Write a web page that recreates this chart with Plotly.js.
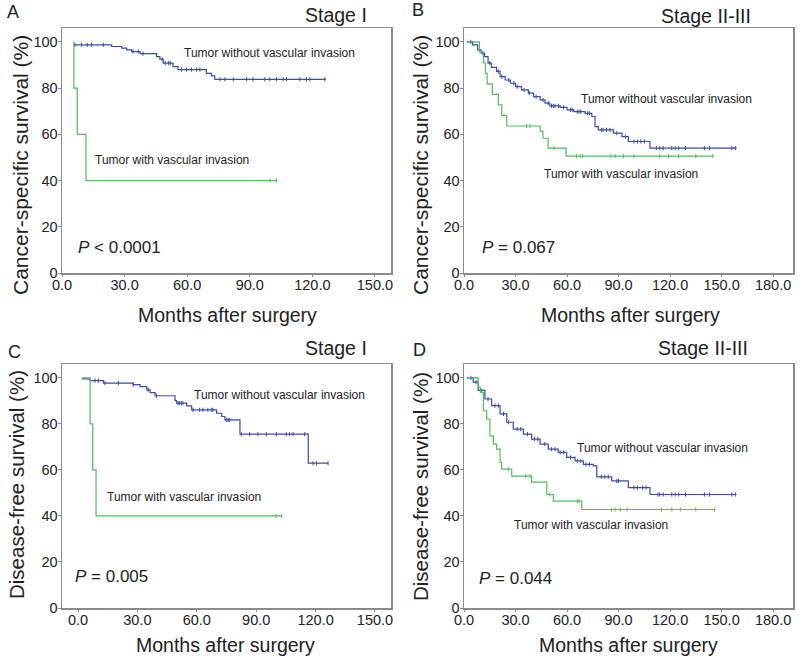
<!DOCTYPE html>
<html>
<head>
<meta charset="utf-8">
<script src="https://cdn.plot.ly/plotly-3.0.1.min.js"></script>
<style>
  html, body { margin: 0; padding: 0; background: #fff; }
  #chart { width: 800px; height: 661px; }
</style>
</head>
<body>
<div id="chart"></div>
<script>
// Kaplan-Meier step curves: at time t[i] survival becomes s[i]; last point = end of follow-up
// A: cancer-specific survival, stage I
var aWithoutT = [5.7, 23.8, 28.6, 31, 33.4, 37.4, 45.3, 46.9, 48.5, 53.2, 55.6, 69.2, 71.6, 73.2, 126.5];
var aWithoutS = [98.7, 98.0, 97.3, 96.5, 95.8, 94.9, 93.6, 92.5, 90.8, 89.3, 88.0, 86.4, 85.3, 83.8, 83.8];
var aWithoutC = [6.2, 9.4, 12.1, 14.2, 19.8, 34, 36.5, 38.8, 48, 49.5, 51, 51.9, 57.3, 59.7, 62.1, 64.5, 66.1,
                 75.7, 78.1, 82.1, 88.5, 91.6, 97.2, 99.6, 102.8, 106, 107.6, 114, 117.2, 118.8, 126];
var aWithT = [5.5, 5.7, 7.3, 11.5, 102.8];
var aWithS = [100, 80, 60, 40, 40];
var aWithC = [99.7, 102.8];

// B: cancer-specific survival, stage II-III
var bWithoutT = [1.6, 5, 8, 10, 12, 14, 16, 19, 21, 24, 27, 30, 33.5, 37.5, 40.5, 44.3, 47.2, 50, 56, 60, 64,
                 70.5, 74.4, 76.3, 78.2, 87, 92, 95.7, 108.3, 158.8];
var bWithoutS = [100, 98.7, 96.5, 95.1, 93.6, 90.8, 89, 87.2, 85, 83.5, 82.1, 80.6, 79.2, 77.8, 76.3, 74.9, 73.5,
                 72.3, 71.7, 70.6, 69.8, 69.1, 67.7, 63.3, 61.9, 60.5, 59.0, 56.9, 54.0, 54.0];
var bWithoutC = [4, 9, 11, 15, 20, 22, 26, 29, 31, 35, 38, 42, 46, 49, 51, 52, 53, 55, 58, 62, 63, 66, 67, 68,
                 72, 73, 80, 81, 83, 85, 89, 94, 99, 101, 103, 105, 112, 114, 116, 121, 123, 125, 129, 140, 143, 156, 158];
var bWithT = [2.5, 9, 11.3, 12.5, 13.5, 16.5, 20, 22, 24.9, 44.3, 46, 49, 59.4, 145.2];
var bWithS = [100, 95.5, 90.9, 86.4, 81.8, 77.3, 72.7, 68.2, 63.6, 61.4, 58.3, 54.0, 50.6, 50.6];
var bWithC = [36.5, 38.4, 52.4, 65.6, 67.6, 69.1, 85.5, 88, 92.8, 99, 114, 119, 125, 135, 145];

// C: disease-free survival, stage I
var cWithoutT = [1.9, 6, 12.8, 27.9, 31.3, 34.7, 36.4, 38.9, 49, 49.8, 54.9, 57.4, 70, 72.6, 74.2, 81.8, 116.3, 126.4];
var cWithoutS = [99.5, 98.8, 97.7, 97, 96.2, 94.8, 93.6, 92.2, 90.1, 89, 87.8, 86.1, 84.6, 83.2, 81.7, 75.5, 62.9, 62.9];
var cWithoutC = [8.6, 10.3, 13.6, 20.4, 27.9, 35.4, 39.6, 50.5, 51.3, 52.2, 53, 58.1, 61.4, 63.1, 65.6, 67.3, 68.1,
                 74.9, 75.8, 76.6, 82.5, 86.7, 90.9, 95.1, 100.2, 105.2, 106.9, 108.6, 114.5, 118.7, 120.4, 126.3];
var cWithT = [1.9, 6.1, 7.4, 9.1, 102.9];
var cWithS = [100, 80, 60, 40, 40];
var cWithC = [100, 102.9];

// D: disease-free survival, stage II-III
var dWithoutT = [1.6, 5.4, 8.3, 12.2, 16.1, 21, 24.9, 28.7, 34.6, 39.4, 44.3, 49.1, 54.9, 59.8, 64.7, 69.5,
                 75.3, 77.3, 86, 95.7, 108.3, 158.8];
var dWithoutS = [100, 98.1, 94.5, 90.8, 87.9, 84.3, 80.7, 77.7, 75.5, 73.4, 71.2, 69, 67.6, 65.4, 63.9, 62.4,
                 61.7, 57.0, 55.2, 52.3, 49.3, 49.3];
var dWithoutC = [4, 7, 10, 14, 18, 20, 23, 26, 31, 33, 37, 41, 43, 47, 51, 53, 56, 58, 62, 66, 68, 71, 73, 80, 82,
                 84, 89, 90, 99, 101, 104, 106, 113, 114, 116, 121, 123, 125, 129, 140, 143, 156, 158];
var dWithT = [2.5, 8.3, 9.5, 11.3, 13.2, 15.1, 17.1, 19, 21, 21.9, 27.8, 39.4, 48.2, 52, 68.6, 146.2];
var dWithS = [100, 96, 93.7, 85.7, 82.1, 74.8, 71.2, 69, 63.2, 60.3, 57.3, 54.7, 49.3, 46.4, 42.8, 42.8];
var dWithC = [25.8, 36, 38.5, 50, 66, 67, 86, 88, 91, 95, 115, 121, 126, 135, 146];

var blue = '#3a4ca8';
var green = '#4fbf5e';

// survival value of a step curve at time t
function survAt(T, S, t) {
    var v = S[0];
    for (var i = 0; i < T.length; i++) {
        if (T[i] <= t) v = S[i];
    }
    return v;
}

function curve(T, S, C, color, xa, ya) {
    var line = {
        x: T, y: S, xaxis: xa, yaxis: ya,
        type: 'scatter', mode: 'lines',
        line: {color: color, width: 1.2, shape: 'hv'},
        hoverinfo: 'skip'
    };
    var marks = {
        x: C, y: C.map(function(t){ return survAt(T, S, t); }),
        xaxis: xa, yaxis: ya,
        type: 'scatter', mode: 'markers',
        marker: {symbol: 'line-ns-open', size: 3, color: color, line: {color: color, width: 1}},
        hoverinfo: 'skip'
    };
    return [line, marks];
}

var chartData = []
    .concat(curve(aWithoutT, aWithoutS, aWithoutC, blue, 'x', 'y'))
    .concat(curve(aWithT, aWithS, aWithC, green, 'x', 'y'))
    .concat(curve(bWithoutT, bWithoutS, bWithoutC, blue, 'x2', 'y2'))
    .concat(curve(bWithT, bWithS, bWithC, green, 'x2', 'y2'))
    .concat(curve(cWithoutT, cWithoutS, cWithoutC, blue, 'x3', 'y3'))
    .concat(curve(cWithT, cWithS, cWithC, green, 'x3', 'y3'))
    .concat(curve(dWithoutT, dWithoutS, dWithoutC, blue, 'x4', 'y4'))
    .concat(curve(dWithT, dWithS, dWithC, green, 'x4', 'y4'));

function xAxis(domain, range, anchor) {
    return {
        domain: domain, range: range, anchor: anchor,
        tick0: 0, dtick: 30, tickformat: '.1f',
        showline: true, mirror: true, linecolor: '#8a8a8a', linewidth: 1.5,
        ticks: 'outside', ticklen: 2, tickcolor: '#8a8a8a',
        ticklabelstandoff: -4,
        showgrid: false, zeroline: false,
        tickfont: {size: 14.5, color: '#222'}
    };
}
function yAxis(domain, anchor) {
    return {
        domain: domain, range: [0, 106], anchor: anchor,
        tick0: 0, dtick: 20,
        showline: true, mirror: true, linecolor: '#8a8a8a', linewidth: 1.5,
        ticks: 'outside', ticklen: 3, tickcolor: '#8a8a8a',
        ticklabelstandoff: -3,
        showgrid: false, zeroline: false,
        tickfont: {size: 14.5, color: '#222'}
    };
}

function px(x) { return x / 800; }
function py(y) { return 1 - y / 661; }

function label(text, x, y, size, extra) {
    var a = {
        text: text, x: px(x), y: py(y), xref: 'paper', yref: 'paper',
        showarrow: false, font: {size: size, color: '#222'},
        xanchor: 'center', yanchor: 'middle'
    };
    for (var k in extra) a[k] = extra[k];
    return a;
}

var annotations = [
    label('A', 13, 12, 18),
    label('B', 418, 10, 18),
    label('C', 14, 352, 18),
    label('D', 419, 350, 18),
    label('Stage I', 336, 15, 19.5),
    label('Stage II-III', 706, 16, 19.5),
    label('Stage I', 336, 348, 19.5),
    label('Stage II-III', 703, 348, 19.5),
    label('Cancer-specific survival (%)', 20, 165, 21, {textangle: -90}),
    label('Cancer-specific survival (%)', 420, 165, 21, {textangle: -90}),
    label('Disease-free survival (%)', 17, 485, 20.5, {textangle: -90}),
    label('Disease-free survival (%)', 420, 487, 20.5, {textangle: -90}),
    label('Months after surgery', 227, 315, 19.5),
    label('Months after surgery', 630, 315, 19.5),
    label('Months after surgery', 226, 645, 19.5),
    label('Months after surgery', 628, 645, 19.5),
    label('Tumor without vascular invasion', 269, 53, 12),
    label('Tumor with vascular invasion', 172, 160, 12),
    label('Tumor without vascular invasion', 666, 99, 12),
    label('Tumor with vascular invasion', 621, 174, 12),
    label('Tumor without vascular invasion', 279, 395, 12),
    label('Tumor with vascular invasion', 184, 497, 12),
    label('Tumor without vascular invasion', 662, 448, 12),
    label('Tumor with vascular invasion', 591, 525, 12),
    label('<i>P</i> &lt; 0.0001', 76, 247, 17, {xanchor: 'left'}),
    label('<i>P</i> = 0.067', 480, 247, 17, {xanchor: 'left'}),
    label('<i>P</i> = 0.005', 73, 576, 17, {xanchor: 'left'}),
    label('<i>P</i> = 0.044', 477, 578, 17, {xanchor: 'left'})
];

var colLeft = [px(62), px(391)];
var colRight = [px(464), px(793)];
var rowTop = [py(273), py(28)];
var rowBottom = [py(608), py(364)];

var layout = {
    width: 800, height: 661,
    margin: {l: 0, r: 0, t: 0, b: 0},
    paper_bgcolor: '#fff', plot_bgcolor: '#fff',
    font: {family: '"Liberation Sans", Arial, sans-serif', color: '#222'},
    showlegend: false,
    xaxis: xAxis(colLeft, [0, 157.7], 'y'),
    yaxis: yAxis(rowTop, 'x'),
    xaxis2: xAxis(colRight, [0, 191.6], 'y2'),
    yaxis2: yAxis(rowTop, 'x2'),
    xaxis3: xAxis(colLeft, [-8.1, 158.1], 'y3'),
    yaxis3: yAxis(rowBottom, 'x3'),
    xaxis4: xAxis(colRight, [0, 191.6], 'y4'),
    yaxis4: yAxis(rowBottom, 'x4'),
    annotations: annotations
};

Plotly.newPlot('chart', chartData, layout, {displayModeBar: false, staticPlot: true});
</script>
</body>
</html>
